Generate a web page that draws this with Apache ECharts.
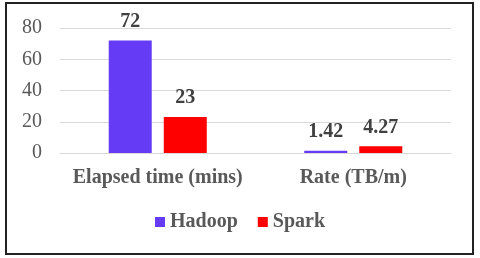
<!DOCTYPE html>
<html><head><meta charset="utf-8">
<script src="https://cdn.jsdelivr.net/npm/echarts@6/dist/echarts.min.js"></script>
<style>html,body{margin:0;padding:0;background:#fff}#c{width:480px;height:258px}</style>
</head><body><div id="c"></div>
<script>
const categories = ['Elapsed time (mins)', 'Rate (TB/m)'];
const hadoop = [72, 1.42];
const spark = [23, 4.27];
const yTicks = [0, 20, 40, 60, 80];
const seriesNames = ['Hadoop', 'Spark'];

const chart = echarts.init(document.getElementById('c'), null, {renderer: 'canvas'});
const font = '"Liberation Serif", "Times New Roman", serif';
const lbl = {show: true, position: 'top', distance: 9, fontFamily: font, fontWeight: 'bold', fontSize: 20, color: '#404040'};
chart.setOption({
  animation: false,
  backgroundColor: '#fff',
  graphic: [{type: 'rect', shape: {x: 6, y: 3, width: 467, height: 251}, style: {fill: 'none', stroke: '#222', lineWidth: 2}}],
  grid: {left: 60, right: 29, top: 28, bottom: 105},
  legend: {data: seriesNames, bottom: 21, left: 'center', itemWidth: 10, itemHeight: 10, itemGap: 20, icon: 'rect',
    textStyle: {fontFamily: font, fontWeight: 'bold', fontSize: 20, color: '#595959'}},
  xAxis: {type: 'category', data: categories, axisTick: {show: false},
    axisLine: {lineStyle: {color: '#d9d9d9', width: 1}},
    axisLabel: {interval: 0, hideOverlap: false, fontFamily: font, fontWeight: 'bold', fontSize: 20, color: '#595959', margin: 15}},
  yAxis: {type: 'value', min: yTicks[0], max: yTicks[yTicks.length - 1], interval: 20,
    axisLine: {show: false}, axisTick: {show: false},
    splitLine: {lineStyle: {color: '#d9d9d9', width: 1}},
    axisLabel: {fontFamily: font, fontSize: 20, color: '#595959', margin: 18}},
  series: [
    {name: seriesNames[0], type: 'bar', data: hadoop, barWidth: 43, barGap: '28%', itemStyle: {color: '#653bf5'}, label: lbl},
    {name: seriesNames[1], type: 'bar', data: spark, barWidth: 43, itemStyle: {color: '#ff0000'}, label: lbl}
  ]
});
</script></body></html>
